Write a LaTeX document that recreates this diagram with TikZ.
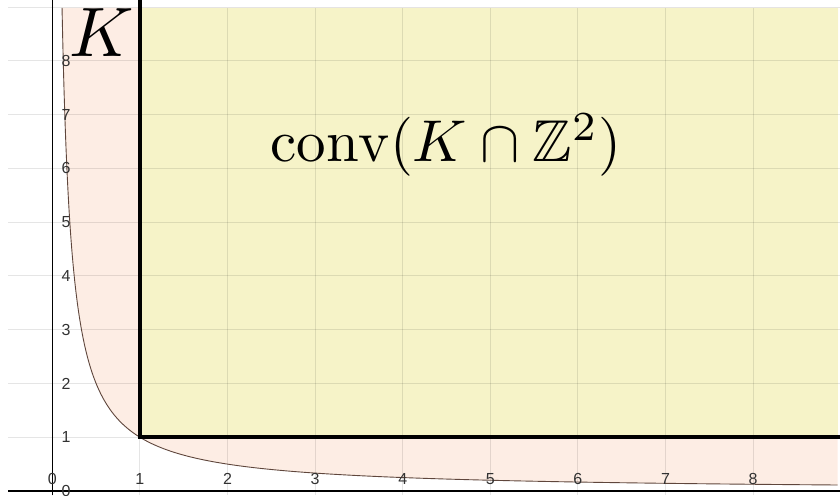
\documentclass[tikz,border=0pt]{standalone}
\usepackage{amssymb}
\usepackage{graphicx}
\usepackage{fontspec}
\newfontfamily\labfont{Liberation Sans}
\definecolor{kfill}{RGB}{253,237,228}
\definecolor{cfill}{RGB}{246,243,200}
\definecolor{curvecol}{RGB}{95,70,60}
\definecolor{labcol}{RGB}{50,50,50}
\begin{document}
\begin{tikzpicture}[x=87.6pt,y=53.76pt,
  gridline/.style={black,opacity=0.1,line width=1pt},
  axisline/.style={black,line width=1.2pt},
  boundary/.style={black,line width=3.5pt},
  curveline/.style={curvecol,line width=0.9pt},
  ticklab/.style={font=\labfont\fontsize{16}{16}\selectfont,text=labcol,inner sep=0pt},
  bigmath/.style={inner sep=0pt}]
\useasboundingbox (-52.3pt,-4pt) rectangle (787.7pt,491pt);
% K region
\fill[kfill] plot[domain=-2.1956:2.1939,samples=300] ({exp(\x)},{exp(-\x)}) -- (8.97,8.985) -- cycle;
% conv region
\fill[cfill] (1,1) rectangle (8.97,8.985);
% grid
\foreach \j in {1,...,9} \draw[gridline] (-0.5,\j) -- (8.992,\j);
\foreach \i in {1,...,8} \draw[gridline] (\i,-0.08) -- (\i,8.985);
% curve
\draw[curveline] plot[domain=-2.1956:2.1939,samples=300] ({exp(\x)},{exp(-\x)});
% axes
\draw[axisline] (-0.5,0) -- (8.992,0);
\draw[axisline] (0,-0.08) -- (0,9.14);
% boundary of conv
\coordinate (top) at (1,9.14);
\coordinate (corner) at (1,1);
\coordinate (right) at (8.992,1);
\draw[boundary] (top) -- (corner) -- (right);
% tick labels
\foreach \i in {0,...,8} \node[ticklab] (xl\i) at (\i,0.223) {\i};
\foreach \j in {0,...,8} \node[ticklab] (yl\j) at (0.156,\j) {\j};
% big labels
\node[bigmath,anchor=base] (K) at (0.56,8.073) {\scalebox{7}{$K$}};
\node[bigmath,anchor=base] (conv) at (4.494,6.129) {\scalebox{5.9}{$\mathrm{conv}(K\cap\mathbb{Z}^2)$}};
\end{tikzpicture}
\end{document}
